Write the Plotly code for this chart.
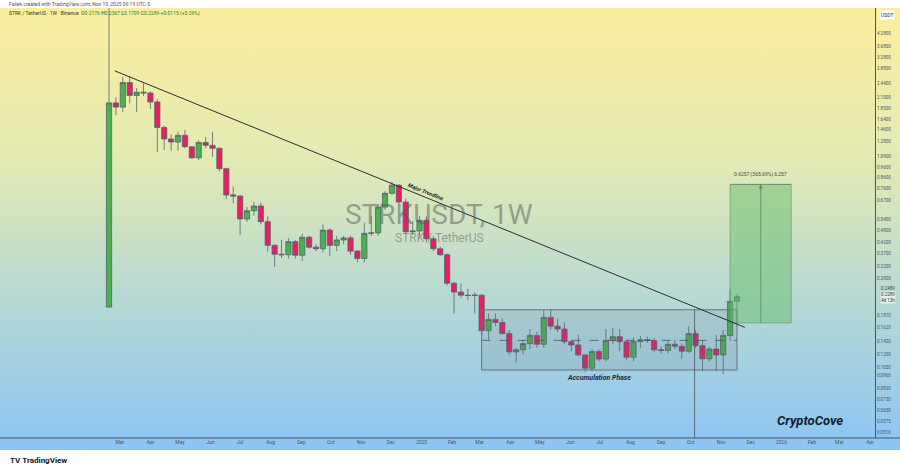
import base64
import math
import pandas as pd
import plotly.graph_objects as go

# weekly STRK/USDT candles
opens = [0.204, 1.97, 1.88, 2.47, 2.14, 2.22, 2.20, 1.99, 1.50, 1.32,
         1.275, 1.374, 1.21, 1.07, 1.27, 1.23, 1.19, 0.949, 0.709, 0.70,
         0.543, 0.595, 0.627, 0.527, 0.405, 0.367, 0.365, 0.422, 0.363, 0.443,
         0.397, 0.39, 0.48, 0.405, 0.43, 0.44, 0.38, 0.35, 0.463, 0.465,
         0.62, 0.722, 0.79, 0.655, 0.471, 0.475, 0.535, 0.436, 0.39, 0.365,
         0.266, 0.241, 0.233, 0.232, 0.233, 0.157, 0.178, 0.172, 0.152, 0.124,
         0.127, 0.136, 0.149, 0.135, 0.182, 0.165, 0.16, 0.139, 0.134, 0.12,
         0.1035, 0.1245, 0.1147, 0.141, 0.147, 0.139, 0.117, 0.139, 0.142, 0.141,
         0.127, 0.126, 0.135, 0.132, 0.125, 0.152, 0.133, 0.115, 0.128, 0.12,
         0.149, 0.2176]
highs = [6.0, 2.10, 2.62, 2.65, 2.32, 2.45, 2.24, 2.05, 1.53, 1.39,
         1.43, 1.46, 1.22, 1.30, 1.35, 1.43, 1.20, 0.96, 0.777, 0.71,
         0.62, 0.657, 0.65, 0.56, 0.41, 0.43, 0.44, 0.43, 0.46, 0.45,
         0.41, 0.51, 0.49, 0.45, 0.45, 0.45, 0.385, 0.52, 0.56, 0.64,
         0.74, 0.82, 0.80, 0.68, 0.53, 0.56, 0.56, 0.45, 0.40, 0.37,
         0.27, 0.265, 0.25, 0.24, 0.235, 0.19, 0.19, 0.18, 0.158, 0.13,
         0.142, 0.16, 0.155, 0.198, 0.20, 0.18, 0.172, 0.142, 0.15, 0.121,
         0.128, 0.128, 0.16, 0.162, 0.16, 0.142, 0.146, 0.148, 0.147, 0.145,
         0.132, 0.14, 0.142, 0.136, 0.165, 0.158, 0.14, 0.131, 0.15, 0.158,
         0.25, 0.2367]
lows = [0.204, 1.72, 1.78, 1.96, 1.78, 2.13, 1.84, 1.14, 1.17, 1.16,
        1.16, 1.19, 1.06, 1.045, 1.19, 1.08, 0.92, 0.677, 0.646, 0.454,
        0.525, 0.562, 0.511, 0.378, 0.319, 0.352, 0.35, 0.35, 0.34, 0.39,
        0.38, 0.375, 0.36, 0.38, 0.41, 0.365, 0.335, 0.335, 0.45, 0.45,
        0.60, 0.71, 0.64, 0.46, 0.455, 0.45, 0.42, 0.38, 0.36, 0.26,
        0.19, 0.225, 0.22, 0.19, 0.15, 0.142, 0.165, 0.15, 0.12, 0.11,
        0.12, 0.128, 0.13, 0.13, 0.158, 0.155, 0.135, 0.125, 0.118, 0.099,
        0.10, 0.112, 0.112, 0.135, 0.125, 0.113, 0.112, 0.13, 0.137, 0.124,
        0.122, 0.122, 0.128, 0.115, 0.123, 0.13, 0.10, 0.112, 0.10, 0.097,
        0.14, 0.1709]
closes = [1.97, 1.88, 2.47, 2.14, 2.22, 2.20, 1.99, 1.50, 1.32, 1.275,
          1.374, 1.21, 1.07, 1.27, 1.23, 1.19, 0.949, 0.709, 0.70, 0.543,
          0.595, 0.627, 0.527, 0.405, 0.367, 0.365, 0.422, 0.363, 0.443, 0.397,
          0.39, 0.48, 0.405, 0.43, 0.44, 0.38, 0.35, 0.463, 0.465, 0.62,
          0.722, 0.79, 0.655, 0.471, 0.475, 0.535, 0.436, 0.39, 0.365, 0.266,
          0.241, 0.233, 0.232, 0.233, 0.157, 0.178, 0.172, 0.152, 0.124, 0.127,
          0.136, 0.149, 0.135, 0.182, 0.165, 0.16, 0.139, 0.134, 0.12, 0.1035,
          0.1245, 0.1147, 0.141, 0.147, 0.139, 0.117, 0.139, 0.142, 0.141, 0.127,
          0.126, 0.135, 0.132, 0.125, 0.152, 0.133, 0.115, 0.128, 0.12, 0.149,
          0.2176, 0.2289]
week_dates = pd.date_range("2024-02-19", periods=len(closes), freq="7D")

price_ticks = [4.28, 3.68, 3.28, 2.88, 2.44, 2.10, 1.85, 1.64, 1.46, 1.28,
               1.09, 0.96, 0.86, 0.76, 0.67, 0.54, 0.48, 0.42, 0.37, 0.32,
               0.28, 0.187, 0.162, 0.14, 0.12, 0.105, 0.096, 0.083, 0.073,
               0.065, 0.0575, 0.051]
price_labels = [f"{v:.4f}" for v in price_ticks]

month_ticks = pd.date_range("2024-03-01", "2026-04-01", freq="MS")
month_labels = [d.strftime("%Y") if d.month == 1 else d.strftime("%b") for d in month_ticks]

# drawings
trend_dates = ["2024-02-25", "2025-11-25"]
trend_prices = [2.81, 0.163]
acc_dates = ["2025-03-03", "2025-11-17"]
acc_prices = [0.1015, 0.198]
acc_mid = 0.141
vline_date = "2025-10-05"
range_dates = ["2025-11-10", "2026-01-11"]
range_prices = [0.1711, 0.7968]
range_mid_date = "2025-12-11"

W, H = 900, 470
L, R, T, B = 5, 25, 8, 32


def px(x):
    return (x - L) / (W - L - R)


def py(y):
    return (H - B - y) / (H - T - B)


svg = ('<svg xmlns="http://www.w3.org/2000/svg" width="900" height="442" preserveAspectRatio="none">'
       '<defs><linearGradient id="g" x1="0" y1="0" x2="0" y2="1">'
       '<stop offset="0" stop-color="#fbef9e"/><stop offset="0.35" stop-color="#e2eab4"/>'
       '<stop offset="0.62" stop-color="#bcdbd0"/><stop offset="1" stop-color="#8bc5f4"/>'
       '</linearGradient></defs><rect width="900" height="442" fill="url(#g)"/></svg>')
bg_src = "data:image/svg+xml;base64," + base64.b64encode(svg.encode()).decode()

fig = go.Figure()

fig.add_trace(go.Candlestick(
    x=week_dates, open=opens, high=highs, low=lows, close=closes,
    increasing=dict(fillcolor="#4caf50", line=dict(color="#566570", width=0.8)),
    decreasing=dict(fillcolor="#e91e63", line=dict(color="#566570", width=0.8)),
    whiskerwidth=0, showlegend=False, hoverinfo="skip"))

# accumulation box
fig.add_trace(go.Scatter(
    x=[acc_dates[0], acc_dates[1], acc_dates[1], acc_dates[0], acc_dates[0]],
    y=[acc_prices[0], acc_prices[0], acc_prices[1], acc_prices[1], acc_prices[0]],
    mode="lines", fill="toself", fillcolor="rgba(90,105,125,0.13)",
    line=dict(color="#66717c", width=1), showlegend=False, hoverinfo="skip"))
fig.add_trace(go.Scatter(
    x=acc_dates, y=[acc_mid, acc_mid], mode="lines",
    line=dict(color="#4a5560", width=0.8, dash="dash"), showlegend=False, hoverinfo="skip"))
fig.add_trace(go.Scatter(
    x=[vline_date, vline_date], y=[acc_prices[1], 0.03], mode="lines",
    line=dict(color="#4a5560", width=0.8), showlegend=False, hoverinfo="skip"))

# price range box
fig.add_trace(go.Scatter(
    x=[range_dates[0], range_dates[1], range_dates[1], range_dates[0], range_dates[0]],
    y=[range_prices[0], range_prices[0], range_prices[1], range_prices[1], range_prices[0]],
    mode="lines", fill="toself", fillcolor="rgba(102,190,110,0.5)",
    line=dict(color="rgba(90,150,95,0.6)", width=1), showlegend=False, hoverinfo="skip"))
fig.add_trace(go.Scatter(
    x=range_dates, y=[range_prices[1], range_prices[1]], mode="lines",
    line=dict(color="#6f8f72", width=1), showlegend=False, hoverinfo="skip"))
fig.add_trace(go.Scatter(
    x=[range_mid_date, range_mid_date], y=range_prices, mode="lines",
    line=dict(color="#6fa377", width=1.2), showlegend=False, hoverinfo="skip"))

# trendline
fig.add_trace(go.Scatter(
    x=trend_dates, y=trend_prices, mode="lines",
    line=dict(color="#2b2f33", width=1), showlegend=False, hoverinfo="skip"))

font_main = "Roboto, Noto Sans, sans-serif"
ann = []
ann.append(dict(x=range_mid_date, y=math.log10(range_prices[1]), xref="x", yref="y",
                showarrow=True, ax=0, ay=7, arrowhead=2, arrowsize=0.8, arrowwidth=1,
                arrowcolor="#5f8f66", text=""))
ann.append(dict(x=range_mid_date, y=math.log10(0.885), xref="x", yref="y", showarrow=False,
                xanchor="center", text="0.6257 (365.69%) 6,257", font=dict(size=5, color="#3a4a40")))
ann.append(dict(x="2025-01-06", y=math.log10(0.735), xref="x", yref="y", showarrow=False,
                xanchor="center", text="<b><i>Major Trendline</i></b>", textangle=22,
                font=dict(size=5.5, color="#20262b")))
ann.append(dict(x="2025-06-30", y=math.log10(0.093), xref="x", yref="y", showarrow=False,
                xanchor="center", text="<b><i>Accumulation Phase</i></b>",
                font=dict(size=7, color="#1e2a3a")))
ann.append(dict(x=px(810), y=py(420), xref="paper", yref="paper", showarrow=False,
                xanchor="center", yanchor="middle",
                text="<b><i>CryptoCove</i></b>", font=dict(size=13, color="#15202e")))
ann.append(dict(x=px(439), y=py(215), xref="paper", yref="paper", showarrow=False,
                xanchor="center", yanchor="middle",
                text="STRKUSDT, 1W", font=dict(size=28, color="rgba(80,90,90,0.5)", family=font_main)))
ann.append(dict(x=px(439), y=py(238), xref="paper", yref="paper", showarrow=False,
                xanchor="center", yanchor="middle",
                text="STRK / TetherUS", font=dict(size=12, color="rgba(80,90,90,0.5)", family=font_main)))
ann.append(dict(x=px(7), y=py(4), xref="paper", yref="paper", showarrow=False,
                xanchor="left", yanchor="middle",
                text="Fallek created with TradingView.com, Nov 19, 2025 09:19 UTC-5",
                font=dict(size=5, color="#555")))
ann.append(dict(x=px(7), y=py(13), xref="paper", yref="paper", showarrow=False,
                xanchor="left", yanchor="middle",
                text="STRK / TetherUS · 1W · Binance  O<span style='color:#2e7d32'>0.2176</span> "
                     "H<span style='color:#2e7d32'>0.2367</span> L<span style='color:#2e7d32'>0.1709</span> "
                     "C<span style='color:#2e7d32'>0.2289</span> <span style='color:#2e7d32'>+0.0115 (+5.29%)</span>",
                font=dict(size=5, color="#333")))
ann.append(dict(x=px(879), y=py(15), xref="paper", yref="paper", showarrow=False,
                xanchor="left", yanchor="middle",
                text="USDT", font=dict(size=5, color="#333"), bgcolor="white", borderpad=1))
ann.append(dict(x=px(880), y=py(288.5), xref="paper", yref="paper", showarrow=False,
                xanchor="left", yanchor="middle",
                text="0.2489", font=dict(size=4.5, color="#444"), borderpad=0))
ann.append(dict(x=px(880), y=py(294.5), xref="paper", yref="paper", showarrow=False,
                xanchor="left", yanchor="middle",
                text="0.2289", font=dict(size=4.5, color="#333"),
                bgcolor="rgba(255,255,255,0.6)", borderpad=0))
ann.append(dict(x=px(880), y=py(300.5), xref="paper", yref="paper", showarrow=False,
                xanchor="left", yanchor="middle",
                text="4d 13h", font=dict(size=4.5, color="#333"),
                bgcolor="rgba(255,255,255,0.6)", borderpad=0))
ann.append(dict(x=px(8), y=py(460), xref="paper", yref="paper", showarrow=False,
                xanchor="left", yanchor="middle",
                text="<b>TV</b> <b>TradingView</b>", font=dict(size=8, color="#131722")))

fig.update_layout(
    width=W, height=H,
    margin=dict(l=L, r=R, t=T, b=B),
    paper_bgcolor="white", plot_bgcolor="rgba(0,0,0,0)",
    font=dict(family=font_main, color="#444"),
    boxgap=0.2, boxgroupgap=0.05,
    showlegend=False,
    annotations=ann,
    images=[dict(source=bg_src, xref="paper", yref="paper", x=px(0), y=py(8),
                 sizex=W / (W - L - R), sizey=442 / (H - T - B),
                 xanchor="left", yanchor="top", sizing="stretch", layer="below")],
    shapes=[dict(type="line", xref="paper", yref="paper", x0=px(0), x1=px(900), y0=0, y1=0,
                 line=dict(color="#4a5560", width=1))],
    xaxis=dict(type="date", range=["2023-11-05 12:00", "2026-04-06"],
               tickvals=month_ticks, ticktext=month_labels, ticks="",
               showgrid=False, zeroline=False, showline=False,
               tickfont=dict(size=5, color="#4a5560"),
               rangeslider=dict(visible=False), fixedrange=True),
    yaxis=dict(type="log", side="right",
               range=[math.log10(0.0477), math.log10(5.65)],
               tickvals=price_ticks, ticktext=price_labels, ticks="",
               showgrid=False, zeroline=False, showline=True, linecolor="#4a5560",
               tickfont=dict(size=4.5, color="#4a5560"), fixedrange=True),
)

fig.write_html("out.html", config={"displayModeBar": False},
               post_script="document.body.style.margin='0';document.body.style.overflow='hidden';")
